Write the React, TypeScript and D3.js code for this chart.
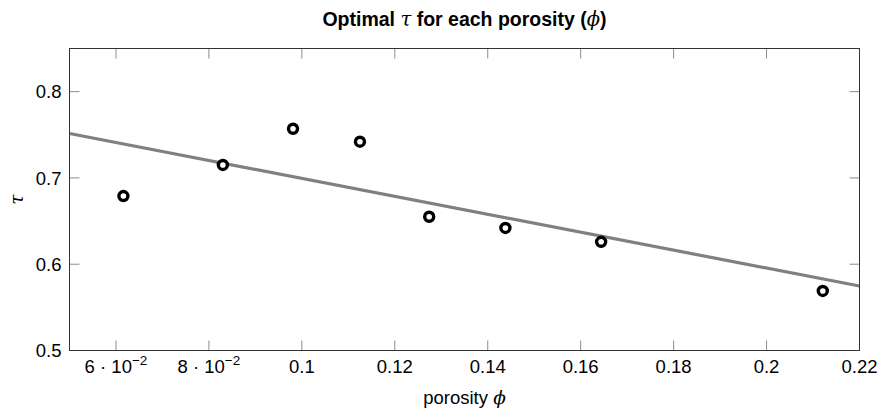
import React from "react";
import * as d3 from "d3";

// Porosity values and the optimal tau found for each
const porosity = [0.0616, 0.083, 0.0981, 0.1125, 0.1274, 0.1438, 0.1644, 0.2121];
const tauOpt = [0.679, 0.715, 0.757, 0.742, 0.655, 0.642, 0.626, 0.569];

const xTicks = [0.06, 0.08, 0.1, 0.12, 0.14, 0.16, 0.18, 0.2, 0.22];
const yTicks = [0.5, 0.6, 0.7, 0.8];
const xDomain: [number, number] = [0.05, 0.22];
const yDomain: [number, number] = [0.5, 0.85];

const W = 883;
const H = 414;
const M = { left: 69.5, right: 859.5, top: 48.5, bottom: 350.5 };
const FS = 18.5;
const SANS = "'Liberation Sans', Arial, Helvetica, sans-serif";
const SERIF = "'DejaVu Serif', 'Liberation Serif', serif";

// least-squares fit of tau against porosity
function fitLine(xs: number[], ys: number[]) {
  const mx = d3.mean(xs)!;
  const my = d3.mean(ys)!;
  let sxy = 0;
  let sxx = 0;
  xs.forEach((x, i) => {
    sxy += (x - mx) * (ys[i] - my);
    sxx += (x - mx) * (x - mx);
  });
  const slope = sxy / sxx;
  return { slope, intercept: my - slope * mx };
}

function xTickLabel(v: number) {
  if (v < 0.1) {
    const m = Math.round(v * 100);
    return (
      <>
        <tspan>{`${m} · 10`}</tspan>
        <tspan dy={-7.5} fontSize={13.5}>−2</tspan>
      </>
    );
  }
  return <tspan>{d3.format("~g")(v)}</tspan>;
}

export default function App() {
  const x = d3.scaleLinear().domain(xDomain).range([M.left, M.right]);
  const y = d3.scaleLinear().domain(yDomain).range([M.bottom, M.top]);
  const { slope, intercept } = fitLine(porosity, tauOpt);
  const fit = d3
    .line<number>()
    .x((d) => x(d))
    .y((d) => y(intercept + slope * d));
  const tickLen = 10;

  return (
    <svg
      width={W}
      height={H}
      style={{ position: "absolute", left: 0, top: 0, background: "#fff" }}
      fontFamily={SANS}
    >
      {/* title */}
      <text x={(M.left + M.right) / 2} y={26} textAnchor="middle" fontSize={19.5} fontWeight="bold">
        <tspan>Optimal </tspan>
        <tspan fontFamily={SERIF} fontStyle="italic" fontWeight="normal">τ</tspan>
        <tspan> for each porosity (</tspan>
        <tspan fontFamily={SERIF} fontStyle="italic" fontWeight="normal">ϕ</tspan>
        <tspan>)</tspan>
      </text>

      {/* ticks */}
      <g stroke="#8c8c8c" strokeWidth={1}>
        {xTicks.map((t) => (
          <g key={`xt${t}`}>
            <line x1={x(t)} x2={x(t)} y1={M.bottom} y2={M.bottom - tickLen} />
            <line x1={x(t)} x2={x(t)} y1={M.top} y2={M.top + tickLen} />
          </g>
        ))}
        {yTicks.map((t) => (
          <g key={`yt${t}`}>
            <line x1={M.left} x2={M.left + tickLen} y1={y(t)} y2={y(t)} />
            <line x1={M.right} x2={M.right - tickLen} y1={y(t)} y2={y(t)} />
          </g>
        ))}
      </g>

      {/* fitted line */}
      <path d={fit(xDomain) || ""} stroke="#808080" strokeWidth={3.2} fill="none" />

      {/* data points */}
      {porosity.map((p, i) => (
        <circle
          key={`pt${i}`}
          cx={x(p)}
          cy={y(tauOpt[i])}
          r={4.5}
          fill="#fff"
          stroke="#000"
          strokeWidth={3.4}
        />
      ))}

      {/* frame */}
      <rect
        x={M.left}
        y={M.top}
        width={M.right - M.left}
        height={M.bottom - M.top}
        fill="none"
        stroke="#333"
        strokeWidth={1}
      />

      {/* tick labels */}
      {xTicks.map((t) => (
        <text key={`xl${t}`} x={x(t)} y={M.bottom + 22} textAnchor="middle" fontSize={FS}>
          {xTickLabel(t)}
        </text>
      ))}
      {yTicks.map((t) => (
        <text key={`yl${t}`} x={M.left - 8} y={y(t) + 6.6} textAnchor="end" fontSize={FS}>
          {d3.format(".1f")(t)}
        </text>
      ))}

      {/* axis labels */}
      <text x={(M.left + M.right) / 2} y={M.bottom + 53} textAnchor="middle" fontSize={FS}>
        <tspan>porosity </tspan>
        <tspan fontFamily={SERIF} fontStyle="italic">ϕ</tspan>
      </text>
      <g transform={`translate(23,${(M.top + M.bottom) / 2}) rotate(-90)`}>
        <text textAnchor="middle" fontFamily={SERIF} fontStyle="italic" fontSize={FS}>
          τ
        </text>
      </g>
    </svg>
  );
}
